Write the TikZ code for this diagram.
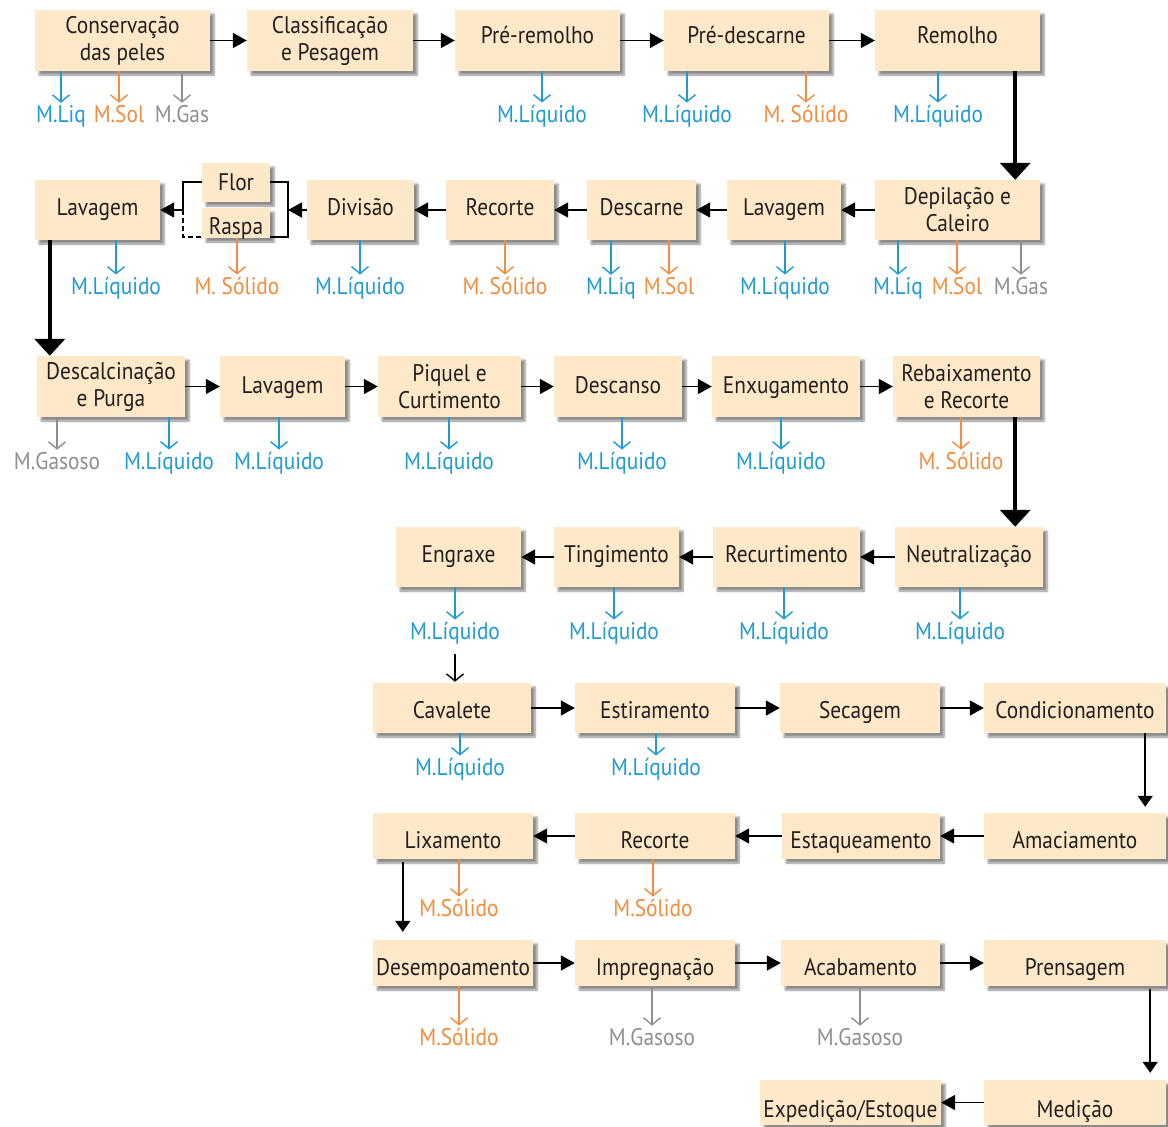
\documentclass[tikz,border=0pt]{standalone}
\usepackage{fontspec}
\setmainfont{PT Sans}[FakeStretch=0.89]
\usetikzlibrary{arrows.meta,shadows.blur,calc}
\definecolor{boxfill}{HTML}{FDE8C8}
\definecolor{txt}{HTML}{231F20}
\definecolor{liq}{HTML}{1E9AD6}
\definecolor{sol}{HTML}{F58B3C}
\definecolor{gas}{HTML}{8E8E8E}
\tikzset{
  box/.style={fill=boxfill, draw=none, text=txt, align=center, inner sep=0pt,
    font=\fontsize{24}{27}\selectfont,
    blur shadow={shadow xshift=4pt, shadow yshift=-4pt, shadow blur steps=6, shadow opacity=45}},
  bl/.style={text height=#1, text depth=0pt},
  lbl/.style={anchor=base, inner sep=0pt, font=\fontsize{24}{27}\selectfont},
  lq/.style={lbl, text=liq},
  sl/.style={lbl, text=sol},
  gs/.style={lbl, text=gas},
  outarr/.style={line width=1.4pt, -{Straight Barb[length=7pt,width=17pt,line width=1.4pt]}, shorten >=2pt},
  flow/.style={line width=1.8pt, black, -{Triangle[length=14pt,width=15pt]}},
  bigflow/.style={line width=4.5pt, black, -{Triangle[length=17pt,width=30pt]}},
  thinflow/.style={line width=1.5pt, black, -{Triangle[length=11pt,width=15pt]}},
  brk/.style={line width=1.5pt, black},
}
\begin{document}
\begin{tikzpicture}[x=1pt,y=-1pt]
\useasboundingbox (0,0) rectangle (1168,1127);
% ---- Row 1
\node[box, minimum width=175, minimum height=61] (cons) at (122.5,40.5) {Conservação\\das peles};
\node[box, minimum width=166, minimum height=61] (clas) at (330,40.5) {Classificação\\e Pesagem};
\node[box, bl=5pt, minimum width=165, minimum height=61] (prer) at (537.5,40.5) {Pré-remolho};
\node[box, bl=5pt, minimum width=165, minimum height=61] (pred) at (746.5,40.5) {Pré-descarne};
\node[box, bl=5pt, minimum width=165, minimum height=61] (remo) at (957.5,40.5) {Remolho};
% ---- Row 2
\node[box, minimum width=165, minimum height=60] (depi) at (957.5,210) {Depilação e\\Caleiro};
\node[box, bl=10pt, minimum width=114, minimum height=60] (lavb) at (784,210) {Lavagem};
\node[box, bl=10pt, minimum width=109, minimum height=60] (desa) at (641.5,210) {Descarne};
\node[box, bl=10pt, minimum width=108, minimum height=60] (reca) at (500,210) {Recorte};
\node[box, bl=10pt, minimum width=107, minimum height=60] (divi) at (360.5,210) {Divisão};
\node[box, bl=15pt, minimum width=68, minimum height=39] (flor) at (236,182.5) {Flor};
\node[box, bl=22pt, minimum width=68, minimum height=30] (rasp) at (236,223) {Raspa};
\node[box, bl=10pt, minimum width=125, minimum height=60] (lava) at (97.5,210) {Lavagem};
% ---- Row 3
\node[box, minimum width=148, minimum height=61] (desc) at (111,386.5) {Descalcinação\\e Purga};
\node[box, bl=13pt, minimum width=125, minimum height=61] (lavc) at (282.5,386.5) {Lavagem};
\node[box, minimum width=143, minimum height=61] (piqu) at (449.5,386.5) {Piquel e\\Curtimento};
\node[box, bl=13pt, minimum width=128, minimum height=61] (dscn) at (618,386.5) {Descanso};
\node[box, bl=13pt, minimum width=148, minimum height=61] (enxu) at (786,386.5) {Enxugamento};
\node[box, minimum width=147, minimum height=61] (reba) at (966.5,386.5) {Rebaixamento\\e Recorte};
% ---- Row 4
\node[box, bl=10pt, minimum width=148, minimum height=60] (neut) at (969,557) {Neutralização};
\node[box, bl=10pt, minimum width=147, minimum height=60] (recu) at (786.5,557) {Recurtimento};
\node[box, bl=10pt, minimum width=125, minimum height=60] (ting) at (616.5,557) {Tingimento};
\node[box, bl=10pt, minimum width=125, minimum height=60] (engr) at (458.5,557) {Engraxe};
% ---- Row 5
\node[box, bl=20pt, minimum width=158, minimum height=50] (cava) at (452,708) {Cavalete};
\node[box, bl=20pt, minimum width=160, minimum height=50] (esti) at (655,708) {Estiramento};
\node[box, bl=20pt, minimum width=160, minimum height=50] (seca) at (860,708) {Secagem};
\node[box, bl=20pt, minimum width=182, minimum height=50] (cond) at (1075,708) {Condicionamento};
% ---- Row 6
\node[box, bl=24pt, minimum width=182, minimum height=46] (amac) at (1075,836) {Amaciamento};
\node[box, bl=24pt, minimum width=158, minimum height=46] (esta) at (861,836) {Estaqueamento};
\node[box, bl=24pt, minimum width=160, minimum height=46] (recb) at (655,836) {Recorte};
\node[box, bl=24pt, minimum width=160, minimum height=46] (lixa) at (453,836) {Lixamento};
% ---- Row 7
\node[box, bl=24pt, minimum width=160, minimum height=46] (dese) at (453,963) {Desempoamento};
\node[box, bl=24pt, minimum width=160, minimum height=46] (impr) at (655,963) {Impregnação};
\node[box, bl=24pt, minimum width=159, minimum height=46] (acab) at (860.5,963) {Acabamento};
\node[box, bl=24pt, minimum width=182, minimum height=46] (pren) at (1075,963) {Prensagem};
% ---- Row 8
\node[box, bl=29pt, minimum width=181, minimum height=45] (expe) at (850.5,1102.5) {Expedição/Estoque};
\node[box, bl=29pt, minimum width=182, minimum height=45] (medi) at (1075,1102.5) {Medição};

% ---- main flow
\draw[flow] (cons) -- (clas);
\draw[flow] (clas) -- (prer);
\draw[flow] (prer) -- (pred);
\draw[flow] (pred) -- (remo);
\coordinate (c1) at ([xshift=-25pt]remo.south east);
\draw[bigflow] (c1) -- (c1 |- depi.north);
\draw[flow] (depi) -- (lavb);
\draw[flow] (lavb) -- (desa);
\draw[flow] (desa) -- (reca);
\draw[flow] (reca) -- (divi);
% bracket Flor/Raspa
\coordinate (br) at (288,210);
\coordinate (bl) at (183,210);
\draw[flow] (divi.west) -- (br);
\draw[brk] ([yshift=0.5pt]flor.east) -- ++(18,0) |- ([yshift=-14pt]rasp.east);
\draw[brk] ([yshift=0.5pt]flor.west) -| (bl);
\draw[brk, dash pattern=on 5pt off 3pt] (bl) |- ([yshift=-14pt]rasp.west);
\draw[flow] (bl) -- (lava.east);
\coordinate (c2) at ([xshift=15pt]lava.south west);
\draw[bigflow] (c2) -- (c2 |- desc.north);
\draw[flow] (desc) -- (lavc);
\draw[flow] (lavc) -- (piqu);
\draw[flow] (piqu) -- (dscn);
\draw[flow] (dscn) -- (enxu);
\draw[flow] (enxu) -- (reba);
\coordinate (c3) at ([xshift=-25pt]reba.south east);
\draw[bigflow] (c3) -- (c3 |- neut.north);
\draw[flow] (neut) -- (recu);
\draw[flow] (recu) -- (ting);
\draw[flow] (ting) -- (engr);
\draw[flow] (cava) -- (esti);
\draw[flow] (esti) -- (seca);
\draw[flow] (seca) -- (cond);
\coordinate (c4) at ([xshift=-21pt]cond.south east);
\draw[thinflow, shorten >=6pt] (c4) -- (c4 |- amac.north);
\draw[flow] (amac) -- (esta);
\draw[flow] (esta) -- (recb);
\draw[flow] (recb) -- (lixa);
\coordinate (c5) at ([xshift=30pt]lixa.south west);
\draw[thinflow, shorten <=3pt, shorten >=8pt] (c5) -- (c5 |- dese.north);
\draw[flow] (dese) -- (impr);
\draw[flow] (impr) -- (acab);
\draw[flow] (acab) -- (pren);
\coordinate (c6) at ([xshift=-16pt]pren.south east);
\draw[thinflow, shorten <=3pt, shorten >=7pt] (c6) -- (c6 |- medi.north);
\draw[flow] (medi) -- (expe);

% ---- outputs row 1
\node[lq] (o1) at (61,122) {M.Liq};
\node[sl] (o2) at (119,122) {M.Sol};
\node[gs] (o3) at (182,122) {M.Gas};
\node[lq] (o4) at (542,122) {M.Líquido};
\node[lq] (o5) at (687,122) {M.Líquido};
\node[sl] (o6) at (806,122) {M. Sólido};
\node[lq] (o7) at (938,122) {M.Líquido};
\draw[outarr, liq] (o1.north |- cons.south) -- (o1.north);
\draw[outarr, sol] (o2.north |- cons.south) -- (o2.north);
\draw[outarr, gas] (o3.north |- cons.south) -- (o3.north);
\draw[outarr, liq] (o4.north |- prer.south) -- (o4.north);
\draw[outarr, liq] (o5.north |- pred.south) -- (o5.north);
\draw[outarr, sol] (o6.north |- pred.south) -- (o6.north);
\draw[outarr, liq] (o7.north |- remo.south) -- (o7.north);
% ---- outputs row 2
\node[lq] (p1) at (116,294) {M.Líquido};
\node[sl] (p2) at (237,294) {M. Sólido};
\node[lq] (p3) at (360,294) {M.Líquido};
\node[sl] (p4) at (505,294) {M. Sólido};
\node[lq] (p5) at (611,294) {M.Liq};
\node[sl] (p6) at (669,294) {M.Sol};
\node[lq] (p7) at (785,294) {M.Líquido};
\node[lq] (p8) at (898,294) {M.Liq};
\node[sl] (p9) at (957,294) {M.Sol};
\node[gs] (p10) at (1021,294) {M.Gas};
\draw[outarr, liq] (p1.north |- lava.south) -- (p1.north);
\draw[outarr, sol] (p2.north |- rasp.south) -- (p2.north);
\draw[outarr, liq] (p3.north |- divi.south) -- (p3.north);
\draw[outarr, sol] (p4.north |- reca.south) -- (p4.north);
\draw[outarr, liq] (p5.north |- desa.south) -- (p5.north);
\draw[outarr, sol] (p6.north |- desa.south) -- (p6.north);
\draw[outarr, liq] (p7.north |- lavb.south) -- (p7.north);
\draw[outarr, liq] (p8.north |- depi.south) -- (p8.north);
\draw[outarr, sol] (p9.north |- depi.south) -- (p9.north);
\draw[outarr, gas] (p10.north |- depi.south) -- (p10.north);
% ---- outputs row 3
\node[gs] (q1) at (57,469) {M.Gasoso};
\node[lq] (q2) at (169,469) {M.Líquido};
\node[lq] (q3) at (279,469) {M.Líquido};
\node[lq] (q4) at (449,469) {M.Líquido};
\node[lq] (q5) at (622,469) {M.Líquido};
\node[lq] (q6) at (781,469) {M.Líquido};
\node[sl] (q7) at (961,469) {M. Sólido};
\draw[outarr, gas] (q1.north |- desc.south) -- (q1.north);
\draw[outarr, liq] (q2.north |- desc.south) -- (q2.north);
\draw[outarr, liq] (q3.north |- lavc.south) -- (q3.north);
\draw[outarr, liq] (q4.north |- piqu.south) -- (q4.north);
\draw[outarr, liq] (q5.north |- dscn.south) -- (q5.north);
\draw[outarr, liq] (q6.north |- enxu.south) -- (q6.north);
\draw[outarr, sol] (q7.north |- reba.south) -- (q7.north);
% ---- outputs row 4
\node[lq] (r1) at (455,639) {M.Líquido};
\node[lq] (r2) at (614,639) {M.Líquido};
\node[lq] (r3) at (784,639) {M.Líquido};
\node[lq] (r4) at (960,639) {M.Líquido};
\draw[outarr, liq] (r1.north |- engr.south) -- (r1.north);
\draw[outarr, liq] (r2.north |- ting.south) -- (r2.north);
\draw[outarr, liq] (r3.north |- recu.south) -- (r3.north);
\draw[outarr, liq] (r4.north |- neut.south) -- (r4.north);
\draw[outarr, black, shorten <=10pt, shorten >=1pt] (r1.south) -- (r1.south |- cava.north);
% ---- outputs row 5
\node[lq] (s1) at (460,775) {M.Líquido};
\node[lq] (s2) at (656,775) {M.Líquido};
\draw[outarr, liq] (s1.north |- cava.south) -- (s1.north);
\draw[outarr, liq] (s2.north |- esti.south) -- (s2.north);
% ---- outputs row 6
\node[sl] (t1) at (459,916) {M.Sólido};
\node[sl] (t2) at (653,916) {M.Sólido};
\draw[outarr, sol] (t1.north |- lixa.south) -- (t1.north);
\draw[outarr, sol] (t2.north |- recb.south) -- (t2.north);
% ---- outputs row 7
\node[sl] (u1) at (459,1045) {M.Sólido};
\node[gs] (u2) at (652,1045) {M.Gasoso};
\node[gs] (u3) at (860,1045) {M.Gasoso};
\draw[outarr, sol] (u1.north |- dese.south) -- (u1.north);
\draw[outarr, gas] (u2.north |- impr.south) -- (u2.north);
\draw[outarr, gas] (u3.north |- acab.south) -- (u3.north);
\end{tikzpicture}
\end{document}
